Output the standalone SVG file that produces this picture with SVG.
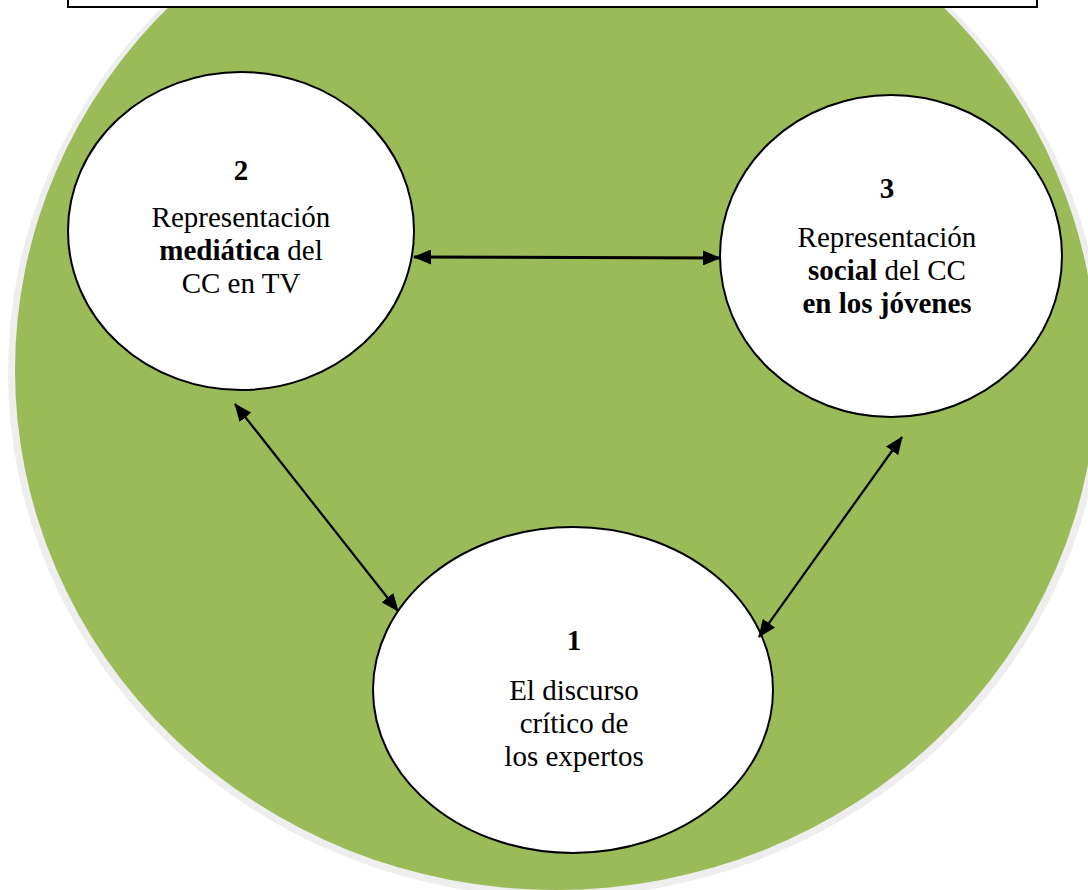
<svg xmlns="http://www.w3.org/2000/svg" width="1088" height="890" viewBox="0 0 1088 890">
<style>
.node{fill:#ffffff;stroke:#000000;stroke-width:2}
.t{font-family:"Liberation Serif","Times New Roman","DejaVu Serif",serif;font-size:29px;fill:#000;text-anchor:middle}
.b{font-weight:bold}
.conn{stroke:#000;fill:none}
</style>
<defs>
<marker id="ah" markerWidth="18" markerHeight="15" refX="17" refY="7.5" orient="auto-start-reverse" markerUnits="userSpaceOnUse">
<path d="M0,0 L18,7.5 L0,15 z" fill="#000"/>
</marker>
</defs>
<rect width="1088" height="890" fill="#ffffff"/>
<g id="background">
<ellipse cx="556" cy="372" rx="548" ry="525" fill="#eeeeee"/>
<ellipse cx="556" cy="370" rx="541" ry="520" fill="#9bbb59"/>
</g>
<g id="title-box">
<rect x="68" y="-10" width="969" height="17" fill="#ffffff" stroke="#000" stroke-width="2"/>
</g>
<g id="node2">
<ellipse class="node" cx="241" cy="231" rx="173" ry="159"/>
<text class="t b" x="241" y="180">2</text>
<text class="t" x="241" y="227">Representación</text>
<text class="t" x="241" y="260"><tspan class="b">mediática</tspan> del</text>
<text class="t" x="241" y="293">CC en TV</text>
</g>
<g id="node3">
<ellipse class="node" cx="891" cy="256" rx="171" ry="161"/>
<text class="t b" x="887" y="198">3</text>
<text class="t" x="887" y="247">Representación</text>
<text class="t" x="887" y="280"><tspan class="b">social</tspan> del CC</text>
<text class="t b" x="887" y="313">en los jóvenes</text>
</g>
<g id="node1">
<ellipse class="node" cx="573" cy="690" rx="200" ry="163"/>
<text class="t b" x="574" y="650">1</text>
<text class="t" x="574" y="700">El discurso</text>
<text class="t" x="574" y="733">crítico de</text>
<text class="t" x="574" y="766">los expertos</text>
</g>
<g id="connectors">
<line class="conn" x1="414" y1="257" x2="720" y2="258" stroke-width="3" marker-start="url(#ah)" marker-end="url(#ah)"/>
<line class="conn" x1="235" y1="404" x2="398" y2="611" stroke-width="2.2" marker-start="url(#ah)" marker-end="url(#ah)"/>
<line class="conn" x1="902" y1="437" x2="759" y2="637" stroke-width="2.2" marker-start="url(#ah)" marker-end="url(#ah)"/>
</g>
</svg>
